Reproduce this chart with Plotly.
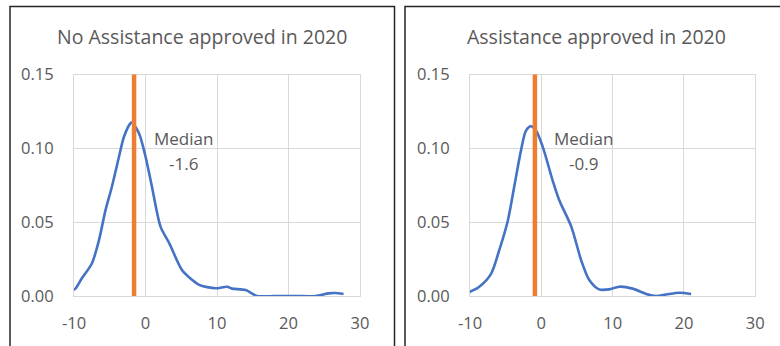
import plotly.graph_objects as go

# Data
x_no = [-10.2, -9.8, -8.9, -7.5, -6.5, -5.6, -4.7, -3.7, -3.0, -2.1, -1.9, -0.9, 0.0, 0.9, 2.1, 3.3, 5.1, 6.5, 7.5, 9.8, 11.4, 12.1, 14.0, 15.6, 18.0, 21.0, 23.8, 25.6, 26.5, 27.7]
y_no = [0.004, 0.005, 0.012, 0.022, 0.038, 0.058, 0.074, 0.0945, 0.108, 0.117, 0.1175, 0.110, 0.0945, 0.074, 0.047, 0.036, 0.0176, 0.011, 0.0075, 0.0052, 0.0063, 0.0050, 0.004, 0.0, 0.0, 0.0, 0.0, 0.0018, 0.002, 0.0014]

x_yes = [-10.5, -8.7, -7.05, -5.9, -4.7, -3.8, -2.85, -2.15, -1.45, -0.75, 0.2, 1.6, 2.5, 4.2, 5.6, 6.7, 8.1, 9.5, 10.9, 12.8, 14.7, 16.1, 17.5, 19.4, 21.0]
y_yes = [0.0018, 0.0063, 0.015, 0.031, 0.051, 0.074, 0.0986, 0.112, 0.115, 0.112, 0.101, 0.078, 0.065, 0.047, 0.024, 0.011, 0.0045, 0.0045, 0.0063, 0.005, 0.0014, 0.0, 0.001, 0.0022, 0.0014]

titles = ["No Assistance approved in 2020", "Assistance approved in 2020"]
medians = [-1.6, -0.9]
median_labels = ["-1.6", "-0.9"]
x_ticks = [-10, 0, 10, 20, 30]
x_tick_text = ["-10", "0", "10", "20", "30"]
y_ticks = [0.0, 0.05, 0.10, 0.15]

W, H = 780, 346
FONT = "Open Sans"
GRAY = "#595959"
GRID = "#d9d9d9"
BLUE = "#4472C4"
ORANGE = "#ED7D31"

fig = go.Figure()
fig.add_trace(go.Scatter(x=x_no, y=y_no, mode="lines", line=dict(color=BLUE, width=2.6, shape="spline", smoothing=0.8),
                         xaxis="x", yaxis="y", showlegend=False, hoverinfo="skip"))
fig.add_trace(go.Scatter(x=x_yes, y=y_yes, mode="lines", line=dict(color=BLUE, width=2.6, shape="spline", smoothing=0.8),
                         xaxis="x2", yaxis="y2", showlegend=False, hoverinfo="skip"))

def px_x(p):
    return p / W

def px_y(p):
    return 1 - p / H

xdoms = [[px_x(74), px_x(360)], [px_x(470), px_x(755.3)]]
ydom = [px_y(296), px_y(74.5)]

common_x = dict(range=[-10, 30], tickvals=x_ticks, ticktext=x_tick_text, showgrid=True, gridcolor=GRID, gridwidth=1,
                zeroline=False, showline=True, linecolor=GRID, linewidth=1, mirror=True, automargin=False,
                tickfont=dict(family=FONT, size=16.5, color=GRAY), ticks="", ticklabelstandoff=12, fixedrange=True)
common_y = dict(range=[0, 0.15], tickvals=y_ticks, tickformat=".2f", showgrid=True, gridcolor=GRID, gridwidth=1,
                zeroline=False, showline=True, linecolor=GRID, linewidth=1, mirror=True, automargin=False,
                tickfont=dict(family=FONT, size=16.5, color=GRAY), ticks="", ticklabelstandoff=16, fixedrange=True)

fig.update_layout(
    width=W, height=H, margin=dict(l=0, r=0, t=0, b=0, autoexpand=False),
    paper_bgcolor="white", plot_bgcolor="white",
    xaxis=dict(domain=xdoms[0], anchor="y", **common_x),
    yaxis=dict(domain=ydom, anchor="x", **common_y),
    xaxis2=dict(domain=xdoms[1], anchor="y2", **common_x),
    yaxis2=dict(domain=ydom, anchor="x2", **common_y),
)

shapes = []
# panel frames
shapes.append(dict(type="rect", xref="paper", yref="paper", x0=px_x(10), x1=px_x(394.5), y0=px_y(360), y1=px_y(6.5),
                   line=dict(color="#262626", width=1.5), fillcolor="rgba(0,0,0,0)", layer="above"))
shapes.append(dict(type="rect", xref="paper", yref="paper", x0=px_x(405), x1=px_x(800), y0=px_y(360), y1=px_y(6.5),
                   line=dict(color="#262626", width=1.5), fillcolor="rgba(0,0,0,0)", layer="above"))
# median lines
for i, (xr, yr) in enumerate([("x", "y"), ("x2", "y2")]):
    shapes.append(dict(type="line", xref=xr, yref=yr, x0=medians[i], x1=medians[i], y0=0, y1=0.1515,
                       line=dict(color=ORANGE, width=4.5), layer="above"))
fig.update_layout(shapes=shapes)

annotations = []
title_cx = [202, 596]
for i in range(2):
    annotations.append(dict(text=titles[i], xref="paper", yref="paper", x=px_x(title_cx[i]), y=px_y(36),
                            xanchor="center", yanchor="middle", showarrow=False,
                            font=dict(family=FONT, size=19.5, color=GRAY)))
label_cx = [183, 583]
for i in range(2):
    annotations.append(dict(text="Median", xref="paper", yref="paper", x=px_x(label_cx[i]), y=px_y(138),
                            xanchor="center", yanchor="middle", showarrow=False,
                            font=dict(family=FONT, size=17, color=GRAY)))
    annotations.append(dict(text=median_labels[i], xref="paper", yref="paper", x=px_x(label_cx[i]), y=px_y(163),
                            xanchor="center", yanchor="middle", showarrow=False,
                            font=dict(family=FONT, size=17, color=GRAY)))
fig.update_layout(annotations=annotations)

fig.write_html("out.html", config={"displayModeBar": False},
               post_script="document.body.style.margin='0';document.body.style.overflow='hidden';")
